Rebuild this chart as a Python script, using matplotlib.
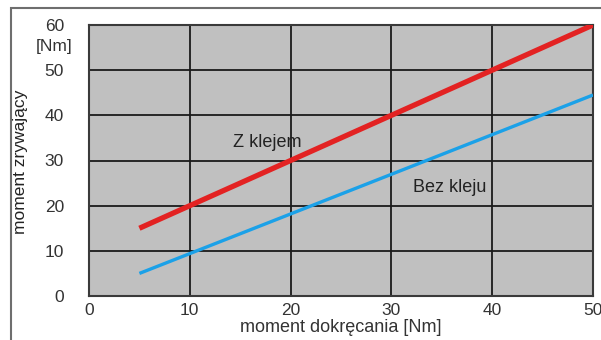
import matplotlib.pyplot as plt
from matplotlib.patches import Rectangle

plt.rcParams['font.family'] = ['Liberation Sans', 'DejaVu Sans']

# dane
x_vals = [5, 50]
z_klejem = [15, 60]
bez_kleju = [5, 44.5]
ticks = [0, 10, 20, 30, 40, 50, 60]

fig = plt.figure(figsize=(6.01, 3.4), dpi=100)
ax = fig.add_axes([89 / 601, 1 - 296 / 340, (593 - 89) / 601, (296 - 25) / 340])

# ramka dookoła
fig.patches.append(Rectangle((11 / 601, -0.1), 1.2, 1 - 8 / 340 + 0.1, transform=fig.transFigure,
                             fill=False, edgecolor='#6e6e6e', linewidth=1.5))

ax.set_facecolor('#c0c0c0')
ax.plot(x_vals, z_klejem, color='#e32222', linewidth=3.8, solid_capstyle='butt', zorder=3)
ax.plot(x_vals, bez_kleju, color='#1ba1e8', linewidth=2.4, solid_capstyle='butt', zorder=3)

ax.set_xlim(0, 50)
ax.set_ylim(0, 60)
ax.set_xticks(ticks[:6])
ax.set_yticks(ticks)
ax.grid(True, color='#1a1a1a', linewidth=1.3)
ax.set_axisbelow(True)
for s in ax.spines.values():
    s.set_color('#3a3a3a')
    s.set_linewidth(1.5)
ax.tick_params(length=0, labelsize=12.5, colors='#333333')
ax.tick_params(axis='y', pad=18)
ax.tick_params(axis='x', pad=5)

ax.text(14.3, 34, 'Z klejem', fontsize=13, color='#222222', va='center')
ax.text(32.1, 24, 'Bez kleju', fontsize=13, color='#222222', va='center')

fig.text(21 / 601, 1 - 162 / 340, 'moment zrywający', rotation=90, fontsize=12.5,
         ha='center', va='center', color='#222222')
fig.text(54 / 601, 1 - 47 / 340, '[Nm]', fontsize=12.5, ha='center', va='center', color='#333333')
fig.text(341 / 601, 1 - 328 / 340, 'moment dokręcania [Nm]', fontsize=13,
         ha='center', va='center', color='#333333')

fig.savefig('out.png', dpi=100)
